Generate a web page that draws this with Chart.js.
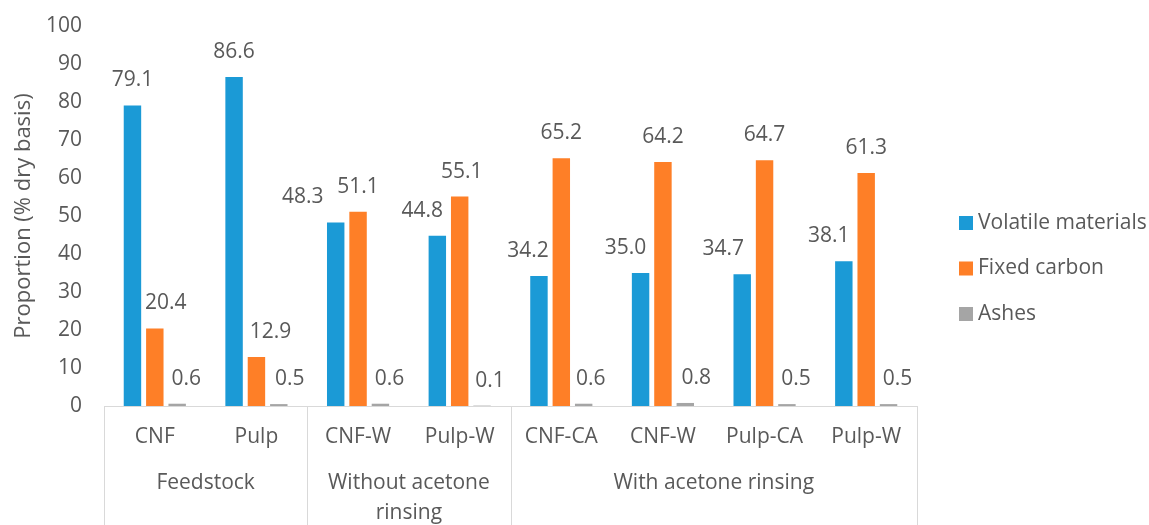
<!DOCTYPE html>
<html>
<head>
<meta charset="utf-8">
<script src="https://cdn.jsdelivr.net/npm/chart.js@4.4.1/dist/chart.umd.min.js"></script>
<style>
  html, body { margin: 0; padding: 0; background: #fff; }
  #wrap { width: 1149px; height: 525px; position: relative; }
</style>
</head>
<body>
<div id="wrap"><canvas id="proxChart"></canvas></div>
<script>
  // Proximate analysis per sample
  const categories = ['CNF', 'Pulp', 'CNF-W', 'Pulp-W', 'CNF-CA', 'CNF-W', 'Pulp-CA', 'Pulp-W'];
  const groupNames = [['Feedstock'], ['Without acetone', 'rinsing'], ['With acetone rinsing']];
  const groupSizes = [2, 2, 4];
  const volatileMaterials = [79.1, 86.6, 48.3, 44.8, 34.2, 35.0, 34.7, 38.1];
  const fixedCarbon = [20.4, 12.9, 51.1, 55.1, 65.2, 64.2, 64.7, 61.3];
  const ashes = [0.6, 0.5, 0.6, 0.1, 0.6, 0.8, 0.5, 0.5];
  const yTicks = [0, 10, 20, 30, 40, 50, 60, 70, 80, 90, 100];

  const TEXT = '#595959';
  const LINE = '#d9d9d9';
  const FONT = '"Open Sans", sans-serif';
  const FS = 21;

  // horizontal nudges for value labels so neighbours don't collide
  const labelShift = [
    [0, 0, -33, -15, -11, -15, -19, -15],
    [11, 14, 0, 2, 0, 0, 0, 0],
    [9, 11, 9, 8, 7, 11, 9, 9]
  ];

  // value labels above each bar
  const valueLabels = {
    id: 'valueLabels',
    afterDatasetsDraw(chart) {
      const ctx = chart.ctx;
      ctx.save();
      ctx.font = FS + 'px ' + FONT;
      ctx.fillStyle = TEXT;
      ctx.textAlign = 'center';
      ctx.textBaseline = 'middle';
      chart.data.datasets.forEach((ds, di) => {
        chart.getDatasetMeta(di).data.forEach((bar, i) => {
          ctx.fillText(ds.data[i].toFixed(1), bar.x + labelShift[di][i], bar.y - 25);
        });
      });
      ctx.restore();
    }
  };

  // second category level: group separators and group names
  const groupAxis = {
    id: 'groupAxis',
    afterDraw(chart) {
      const ctx = chart.ctx;
      const x = chart.scales.x;
      const step = (x.right - x.left) / categories.length;
      const top = chart.chartArea.bottom;
      ctx.save();
      ctx.strokeStyle = LINE;
      ctx.lineWidth = 1;
      let idx = 0;
      const edges = [0];
      groupSizes.forEach(n => { idx += n; edges.push(idx); });
      edges.forEach(e => {
        const px = Math.round(x.left + e * step) + 0.5;
        ctx.beginPath();
        ctx.moveTo(px, top);
        ctx.lineTo(px, chart.height);
        ctx.stroke();
      });
      ctx.font = FS + 'px ' + FONT;
      ctx.fillStyle = TEXT;
      ctx.textAlign = 'center';
      ctx.textBaseline = 'middle';
      groupNames.forEach((lines, g) => {
        const cx = x.left + (edges[g] + edges[g + 1]) / 2 * step;
        lines.forEach((t, li) => ctx.fillText(t, cx, 483 + li * 30));
      });
      ctx.restore();
    }
  };

  // legend on the right
  const sideLegend = {
    id: 'sideLegend',
    afterDraw(chart) {
      const ctx = chart.ctx;
      ctx.save();
      ctx.font = FS + 'px ' + FONT;
      ctx.textBaseline = 'middle';
      ctx.textAlign = 'left';
      chart.data.datasets.forEach((ds, i) => {
        const cy = 223 + i * 45.5;
        ctx.fillStyle = ds.backgroundColor;
        ctx.fillRect(959, cy - 7, 14, 14);
        ctx.fillStyle = TEXT;
        ctx.fillText(ds.label, 978, cy);
      });
      ctx.restore();
    }
  };

  new Chart(document.getElementById('proxChart'), {
    type: 'bar',
    data: {
      labels: categories,
      datasets: [
        { label: 'Volatile materials', data: volatileMaterials, backgroundColor: '#1b9ad6' },
        { label: 'Fixed carbon', data: fixedCarbon, backgroundColor: '#fe7f27' },
        { label: 'Ashes', data: ashes, backgroundColor: '#a5a5a5' }
      ]
    },
    options: {
      responsive: true,
      maintainAspectRatio: false,
      animation: false,
      devicePixelRatio: 1,
      categoryPercentage: 0.66,
      barPercentage: 0.78,
      layout: { padding: { top: 26, right: 232, bottom: 0, left: 0 } },
      plugins: {
        legend: { display: false },
        tooltip: { enabled: false }
      },
      scales: {
        x: {
          grid: { display: false, drawTicks: false },
          border: { display: true, color: LINE, width: 1 },
          ticks: { color: TEXT, font: { family: FONT, size: FS }, padding: 18, maxRotation: 0, autoSkip: false },
          afterFit(scale) { scale.height = 119; }
        },
        y: {
          min: 0,
          max: 100,
          afterBuildTicks(scale) { scale.ticks = yTicks.map(v => ({ value: v })); },
          grid: { display: false, drawTicks: false },
          border: { display: false },
          ticks: { color: TEXT, font: { family: FONT, size: FS }, padding: 22 },
          title: {
            display: true,
            text: 'Proportion (% dry basis)',
            color: TEXT,
            font: { family: FONT, size: 22 },
            padding: { top: 11, bottom: 0 }
          },
          afterFit(scale) {
            scale.width = 104;
            // tick padding would otherwise push the plot top down
            scale.paddingTop = 0;
            scale.paddingBottom = 0;
          }
        }
      }
    },
    plugins: [valueLabels, groupAxis, sideLegend]
  });
</script>
</body>
</html>
